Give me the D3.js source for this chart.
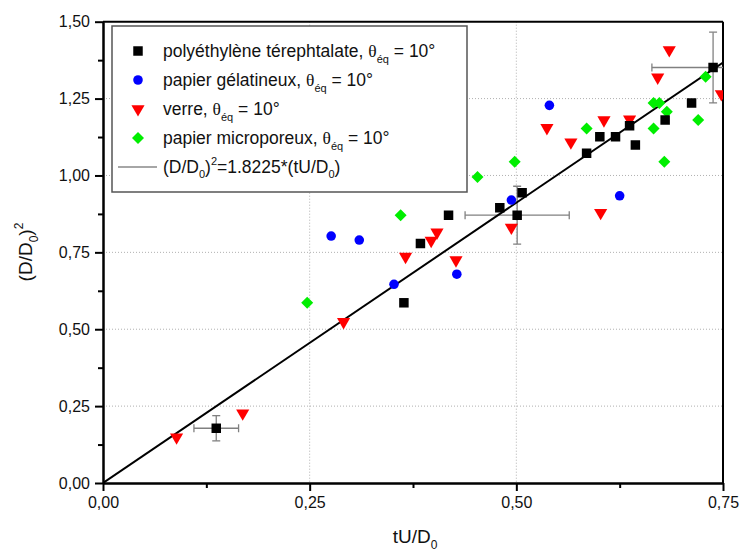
<!DOCTYPE html>
<html>
<head>
<meta charset="utf-8">
<script src="https://cdn.jsdelivr.net/npm/d3@7"></script>
<style>
  html, body { margin: 0; padding: 0; background: #fff; }
  svg { display: block; font-family: "Liberation Sans", Arial, sans-serif; }
</style>
</head>
<body>
<svg id="chart" width="740" height="554"></svg>
<script>
// ---- data ----
const xTicks = [0, 0.25, 0.5, 0.75];
const xTickLabels = ["0,00", "0,25", "0,50", "0,75"];
const yTicks = [0, 0.25, 0.5, 0.75, 1.0, 1.25, 1.5];
const yTickLabels = ["0,00", "0,25", "0,50", "0,75", "1,00", "1,25", "1,50"];

const petX = [0.137, 0.364, 0.384, 0.418, 0.480, 0.501, 0.507, 0.585, 0.601, 0.620, 0.637, 0.644, 0.680, 0.712, 0.738];
const petY = [0.178, 0.586, 0.779, 0.871, 0.895, 0.871, 0.944, 1.072, 1.126, 1.126, 1.162, 1.099, 1.180, 1.236, 1.351];

const gelX = [0.276, 0.310, 0.352, 0.428, 0.494, 0.540, 0.625];
const gelY = [0.803, 0.790, 0.646, 0.679, 0.920, 1.228, 0.934];

const verreX = [0.089, 0.169, 0.291, 0.366, 0.397, 0.404, 0.427, 0.494, 0.537, 0.566, 0.602, 0.606, 0.637, 0.671, 0.685, 0.748];
const verreY = [0.149, 0.227, 0.524, 0.736, 0.788, 0.815, 0.725, 0.831, 1.155, 1.108, 0.879, 1.180, 1.183, 1.319, 1.408, 1.265];

const microX = [0.247, 0.360, 0.453, 0.498, 0.585, 0.666, 0.666, 0.673, 0.679, 0.682, 0.720, 0.729];
const microY = [0.586, 0.871, 0.995, 1.045, 1.153, 1.153, 1.236, 1.236, 1.045, 1.207, 1.180, 1.321];

// error bars on PET points: x, y, xErr, yErr
const errX = [0.137, 0.501, 0.738];
const errY = [0.178, 0.871, 1.351];
const errDx = [0.027, 0.063, 0.074];
const errDy = [0.041, 0.094, 0.115];

const fitSlope = 1.8225;
const fitX = [0, 0.75];

const seriesNames = ["polyéthylène térephtalate", "papier gélatineux", "verre", "papier microporeux"];
const seriesColors = ["#000000", "#0000ff", "#ff0000", "#00ee00"];

// ---- layout ----
const svg = d3.select("#chart");
const L = 103, R = 723, T = 21.7, B = 483;
const x = d3.scaleLinear().domain([0, 0.75]).range([L, R]);
const y = d3.scaleLinear().domain([0, 1.5]).range([B, T]);

svg.append("defs").append("clipPath").attr("id", "plotclip")
  .append("rect").attr("x", L).attr("y", T).attr("width", R - L).attr("height", B - T);

// grid
const grid = svg.append("g");
grid.selectAll(".gx").data([0.25, 0.5]).enter().append("line")
  .attr("x1", d => x(d)).attr("x2", d => x(d)).attr("y1", T).attr("y2", B)
  .attr("stroke", "#b0b0b0").attr("stroke-width", 1).attr("stroke-dasharray", "1,2");
grid.selectAll(".gy").data([0.25, 0.5, 0.75, 1.0, 1.25]).enter().append("line")
  .attr("x1", L).attr("x2", R).attr("y1", d => y(d)).attr("y2", d => y(d))
  .attr("stroke", "#b0b0b0").attr("stroke-width", 1).attr("stroke-dasharray", "1,2");

// axes
const xAxis = d3.axisBottom(x).tickValues(xTicks).tickFormat((d, i) => xTickLabels[i]).tickSizeInner(8).tickSizeOuter(0).tickPadding(6);
const xMinor = d3.axisBottom(x).tickValues([0.125, 0.375, 0.625]).tickFormat("").tickSizeInner(5).tickSizeOuter(0);
const yAxis = d3.axisLeft(y).tickValues(yTicks).tickFormat((d, i) => yTickLabels[i]).tickSizeInner(8).tickSizeOuter(0).tickPadding(5);
const yMinor = d3.axisLeft(y).tickValues([0.125, 0.375, 0.625, 0.875, 1.125, 1.375]).tickFormat("").tickSizeInner(5).tickSizeOuter(0);

function styleAxis(g) {
  g.selectAll("path").attr("stroke", "#000").attr("stroke-width", 2);
  g.selectAll("line").attr("stroke", "#000").attr("stroke-width", 2);
  g.selectAll("text").attr("font-size", 16).attr("fill", "#111").attr("font-family", "Liberation Sans, Arial, sans-serif");
}
svg.append("g").attr("transform", `translate(0,${B})`).call(xMinor).call(styleAxis);
svg.append("g").attr("transform", `translate(0,${B})`).call(xAxis).call(styleAxis);
svg.append("g").attr("transform", `translate(${L},0)`).call(yMinor).call(styleAxis);
svg.append("g").attr("transform", `translate(${L},0)`).call(yAxis).call(styleAxis);
// top and right frame
svg.append("line").attr("x1", L).attr("x2", R).attr("y1", T).attr("y2", T).attr("stroke", "#000").attr("stroke-width", 2);
svg.append("line").attr("x1", R).attr("x2", R).attr("y1", T).attr("y2", B).attr("stroke", "#000").attr("stroke-width", 2);

// plot content
const plot = svg.append("g").attr("clip-path", "url(#plotclip)");

// error bars
const eg = plot.append("g").attr("stroke", "#808080").attr("stroke-width", 1.3);
errX.forEach((ex, i) => {
  const ey = errY[i], dx = errDx[i], dy = errDy[i];
  eg.append("line").attr("x1", x(ex - dx)).attr("x2", x(ex + dx)).attr("y1", y(ey)).attr("y2", y(ey));
  eg.append("line").attr("x1", x(ex)).attr("x2", x(ex)).attr("y1", y(ey - dy)).attr("y2", y(ey + dy));
  [ex - dx, ex + dx].forEach(v => eg.append("line").attr("x1", x(v)).attr("x2", x(v)).attr("y1", y(ey) - 4).attr("y2", y(ey) + 4));
  [ey - dy, ey + dy].forEach(v => eg.append("line").attr("x1", x(ex) - 4).attr("x2", x(ex) + 4).attr("y1", y(v)).attr("y2", y(v)));
});

// fit line
plot.append("line")
  .attr("x1", x(fitX[0])).attr("y1", y(fitSlope * fitX[0]))
  .attr("x2", x(fitX[1])).attr("y2", y(fitSlope * fitX[1]))
  .attr("stroke", "#000").attr("stroke-width", 2);

const symbols = [
  d3.symbol().type(d3.symbolSquare).size(90),
  d3.symbol().type(d3.symbolCircle).size(72),
  d3.symbol().type(d3.symbolTriangle).size(75),
  d3.symbol().type(d3.symbolSquare).size(72)
];
const rotations = [0, 0, 180, 45];
const seriesXs = [petX, gelX, verreX, microX];
const seriesYs = [petY, gelY, verreY, microY];

[3, 2, 1, 0].forEach(s => {
  const pts = seriesXs[s].map((v, i) => [v, seriesYs[s][i]]);
  plot.append("g").selectAll("path").data(pts).enter().append("path")
    .attr("d", symbols[s])
    .attr("transform", d => `translate(${x(d[0])},${y(d[1])}) rotate(${rotations[s]})`)
    .attr("fill", seriesColors[s]);
});

// legend
const lg = svg.append("g");
lg.append("rect").attr("x", 112).attr("y", 26).attr("width", 355).attr("height", 166)
  .attr("fill", "#fff").attr("stroke", "#555").attr("stroke-width", 1.5);
const rowY = [51, 80, 109, 138, 167];
seriesNames.forEach((name, i) => {
  lg.append("path").attr("d", symbols[i])
    .attr("transform", `translate(138,${rowY[i]}) rotate(${rotations[i]})`)
    .attr("fill", seriesColors[i]);
  const t = lg.append("text").attr("x", 163).attr("y", rowY[i] + 6).attr("font-size", 17.5).attr("fill", "#111");
  t.append("tspan").text(name + ", ");
  t.append("tspan").attr("font-family", "Liberation Serif, serif").text("θ");
  t.append("tspan").attr("font-size", 11).attr("dy", 6).text("éq");
  t.append("tspan").attr("dy", -6).text(" = 10°");
});
lg.append("line").attr("x1", 118).attr("x2", 157).attr("y1", rowY[4]).attr("y2", rowY[4])
  .attr("stroke", "#888").attr("stroke-width", 1.5);
const ft = lg.append("text").attr("x", 163).attr("y", rowY[4] + 6).attr("font-size", 17.5).attr("fill", "#111");
ft.append("tspan").text("(D/D");
ft.append("tspan").attr("font-size", 11).attr("dy", 5).text("0");
ft.append("tspan").attr("dy", -5).text(")");
ft.append("tspan").attr("font-size", 11).attr("dy", -8).text("2");
ft.append("tspan").attr("dy", 8).text("=1.8225*(tU/D");
ft.append("tspan").attr("font-size", 11).attr("dy", 5).text("0");
ft.append("tspan").attr("dy", -5).text(")");

// axis titles
const xt = svg.append("text").attr("x", 415).attr("y", 543).attr("text-anchor", "middle").attr("font-size", 19).attr("fill", "#111");
xt.append("tspan").text("tU/D");
xt.append("tspan").attr("font-size", 12).attr("dy", 6).text("0");

const yt = svg.append("text").attr("transform", `translate(32,252) rotate(-90)`).attr("text-anchor", "middle").attr("font-size", 19).attr("fill", "#111");
yt.append("tspan").text("(D/D");
yt.append("tspan").attr("font-size", 12).attr("dy", 6).text("0");
yt.append("tspan").attr("dy", -6).text(")");
yt.append("tspan").attr("font-size", 12).attr("dy", -9).text("2");
</script>
</body>
</html>
